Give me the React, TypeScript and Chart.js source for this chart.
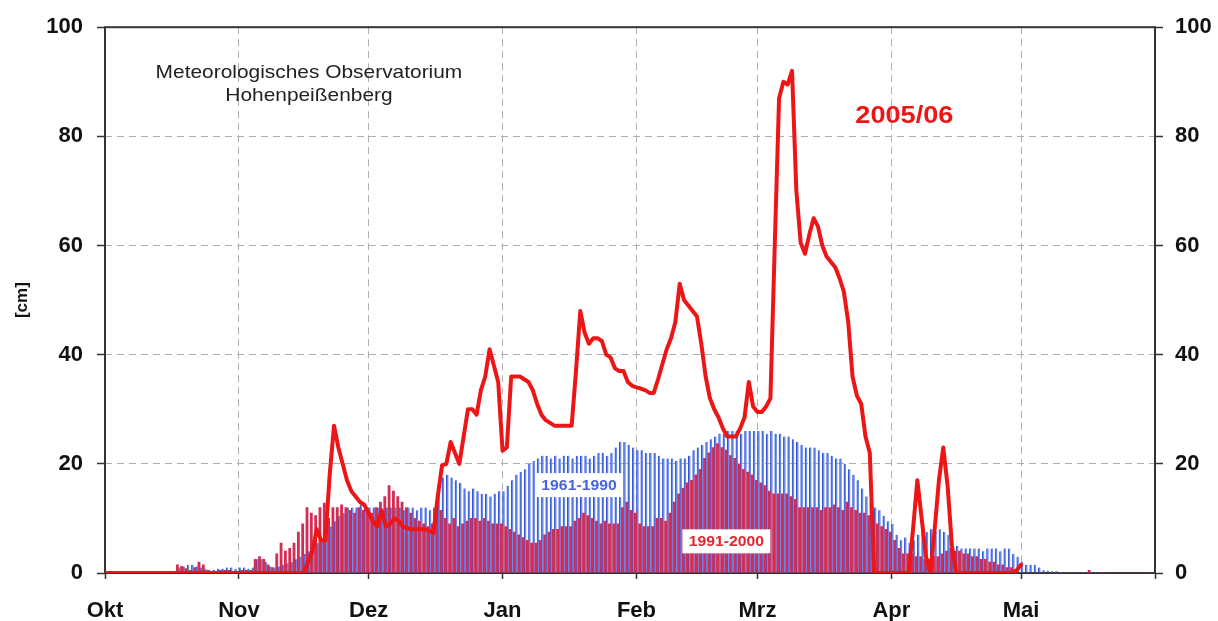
import React, { useEffect, useRef } from "react";
import { Chart, registerables } from "chart.js";

Chart.register(...registerables);

// ---- Axis definitions ----
const MONTH_STARTS = [0, 31, 61, 92, 123, 151, 182, 212, 243];
const MONTH_LABELS = ["Okt", "Nov", "Dez", "Jan", "Feb", "Mrz", "Apr", "Mai", ""];
const Y_MIN = 0;
const Y_MAX = 100;
const Y_STEP = 20;
const Y_TITLE = "[cm]";

// ---- Mean 1961-1990 (daily, cm) ----
const blueOkt = [0,0,0,0,0,0,0,0,0,0,0,0,0,0,0,0,0, 1,1.2,1.5,1.5,1.2,1,0.8, 0.5,0.6,0.8,0.8,1,1,0.8];
const blueNov = [1,1,0.8,1, 2.5,2.5,2,1.2,1, 1.2,1.5,1.8,2,2.5,3,3.5,4, 5,5.5,6,7,8.5,9.5,10.5,11, 12,12,12,12.5,12.5];
const blueDez = [12,12,12,11.5,12,12,12,12,11.5,12,12,11.5,12,12,11.5,12, 16,17.5,18,17.5,17,16.5, 15.5,15,15.5,15,14.5,14.5,14,14.5,15];
const blueJan = [15, 16,17,18,18.5,19,20,20.5, 21,21.5,21.5,21,21.5,21,21.5,21.5,21,21.5,21.5,21.5,21,21.5,22,22,21.5,22, 23,24,24,23.5, 23];
const blueFeb = [22.5,22.5,22,22,22, 21.5,21,21,21,20.5,21,21,21.5, 22.5,23,23.5,24,24.5,25, 25.5,25.5,26,26,26,25.5,26,26,26];
const blueMrz = [26,26,25.5,26, 25.5,25.5,25,25,24.5,24, 23.5,23,23,23,22.5,22,22,21.5, 21,21,20, 19,18,17,15.5,14,13, 12,11.5,10.5,9.5];
const blueApr = [9, 7,6,6.5,5.5,6, 7,7.5,7.5,8,7.5,8,7.5,7, 5,5,4.5,4.5,4.5,4.5,4.5,4,4.5,4.5,4.5,4,4.5,4.5,3.5, 3];
const blueMai = [2,1.5,1.5,1.5,1, 0.5,0.4,0.3,0.3,0.2,0.2,0.2,0.2,0.2,0.2,0.2,0.2,0.2,0.2, 0,0,0,0,0,0,0,0,0,0,0,0];

// ---- Mean 1991-2000 (daily, cm) ----
const redOkt = [0,0,0,0,0,0,0,0,0,0,0,0,0,0,0,0,0, 1.5,1.2,0.8,0.5,1,2,1.5, 0.5,0.3,0.3,0.5,0.5,0.5,0.3];
const redNov = [0.3,0.5,0.5,0.5, 2.5,3,2.5,1.5,1, 3.5,5.5,4,4.5,5.5,7.5,9,12, 11,10.5,12,12.8,10,12,12,12.5, 12,11.5,11,12,11.5];
const redDez = [11.5,11,12, 13,14,16,15,14,13,12, 11,10,9.5,9,8.5,9, 12,11.5,10,9,10,8.5, 9,9.5,10,10,9.5,10,9.5,9,9];
const redJan = [9, 8.5,8,7.5,7,6.5,6,5.5,5.5, 6,7,7.5,8,8,8.5,8.5,8.5, 9.5,10,11,10.5,10,9.5,9,9.5,9, 9,9,12,13,11.5];
const redFeb = [11, 9,8.5,8.5,8.5,10,10,9.5,11, 13,14.5,15.5,16.5,17,18, 19,21,22,23,23.7,23,22.5, 21.5,21,20,19,18.5,18];
const redMrz = [17, 16.5,16,15,14.5,14.5,14.5,14.5,14,13.5, 12,12,12,12,12,11.5,12,12,12.5,12,11.5,13,12,11.5,11,11,10.5, 10,9,8.5,8];
const redApr = [7.5, 6,4.5,3.5,3.5,3.5, 3,3,2.5,2.5,3,3,3.5,4, 4.5,4,4,3.5,3.5,3,3,2.5,2.5, 2,2,1.5,1.5,1,1, 0];
const redMai = [0,0,0,0,0,0,0,0,0,0,0,0,0,0,0,0, 0.5, 0,0,0,0,0,0,0,0,0,0,0,0,0,0];

// ---- Winter 2005/06 (daily, cm) ----
const lineOkt = [0,0,0,0,0,0,0,0,0,0,0,0,0,0,0,0,0,0,0,0,0,0,0,0,0,0,0,0,0,0,0];
const lineNov = [0,0,0,0,0,0,0,0,0,0,0,0,0,0,0,0, 2,4,8,6,6,18,27,23,20,17,15,14,13,12.5];
const lineDez = [11,9.5,8.5,11.5,8.5,9,10,9.5,8.5,8.2,8,8,8,8,7.8,7.3, 14,19.7,20,24,22,20,25,30,30,29,33.5,36,41,38,35];
const lineJan = [22.4,23,36,36,36,35.5,35,33.5,31,29,28,27.5,27,27,27,27,27, 37,48,44,42,43,43,42.5,40,39.5,37.5,37,37,35,34.3];
const lineFeb = [34,33.8,33.5,33,33,35.5,38.3,41,43,46,53,50,49,48,47,42,36,32,30,28.5,26.5,25,25,25,26.5,28.5,35,30.5];
const lineMrz = [29.5,29.5,30.5,32,60,87,90,89.5,92,70,60.5,58.5,62,65,63.5,60,58,57,56,54,51.5,46,36,32.5,31,25,22,0,0,0,0];
const lineApr = [0,0,0,0,0, 8,17,10,3,0, 8,17,23,16,5, 0,0,0,0,0,0,0,0,0,0,0,0,0,0, 0.5];
const lineMai = [1.5];

// ---- Text annotations (anchored in data units: day, cm) ----
const STATION_LINES = ["Meteorologisches Observatorium", "Hohenpeißenberg"];
const STATION_AT = [47.2, 91.6, 87.4];
const SEASON_LABEL = "2005/06";
const SEASON_AT = [185, 83.6];
const BLUE_LABEL = "1961-1990";
const BLUE_AT = [109.7, 16.1];
const RED_LABEL = "1991-2000";
const RED_AT = [143.8, 5.8];

const blueDaily = [...blueOkt, ...blueNov, ...blueDez, ...blueJan, ...blueFeb, ...blueMrz, ...blueApr, ...blueMai];
const redDaily = [...redOkt, ...redNov, ...redDez, ...redJan, ...redFeb, ...redMrz, ...redApr, ...redMai];
const lineDaily = [...lineOkt, ...lineNov, ...lineDez, ...lineJan, ...lineFeb, ...lineMrz, ...lineApr, ...lineMai];

const FONT = "'Liberation Sans', Arial, Helvetica, sans-serif";
const BLUE_FILL = "rgb(105,140,238)";
const BLUE_EDGE = "rgb(48,78,215)";
const RED_BAR = "rgb(212,44,82)";
const RED_LINE = "rgb(236,22,22)";
const GRID = "rgb(175,175,175)";
const AXIS = "#333333";

function drawStretched(ctx: CanvasRenderingContext2D, text: string, x: number, y: number, font: string, color: string, sx: number) {
  ctx.save();
  ctx.font = font;
  ctx.fillStyle = color;
  ctx.textAlign = "center";
  ctx.textBaseline = "middle";
  ctx.translate(x, y);
  ctx.scale(sx, 1);
  ctx.fillText(text, 0, 0);
  ctx.restore();
}

const framePlugin = {
  id: "frame",
  beforeDatasetsDraw(chart: any) {
    const { ctx, chartArea: a } = chart;
    ctx.save();
    ctx.strokeStyle = AXIS;
    ctx.lineWidth = 2;
    ctx.strokeRect(a.left, a.top, a.right - a.left, a.bottom - a.top);
    ctx.restore();
  },
};

const annotationPlugin = {
  id: "annotations",
  afterDatasetsDraw(chart: any) {
    const { ctx } = chart;
    const xs = chart.scales.x;
    const ys = chart.scales.y;
    const px = (d: number) => xs.getPixelForValue(d);
    const py = (v: number) => ys.getPixelForValue(v);

    drawStretched(ctx, STATION_LINES[0], px(STATION_AT[0]), py(STATION_AT[1]), `19px ${FONT}`, "#222", 1.1);
    drawStretched(ctx, STATION_LINES[1], px(STATION_AT[0]), py(STATION_AT[2]), `19px ${FONT}`, "#222", 1.1);
    drawStretched(ctx, SEASON_LABEL, px(SEASON_AT[0]), py(SEASON_AT[1]), `bold 24px ${FONT}`, RED_LINE, 1.13);

    const box = (label: string, at: number[], color: string) => {
      const cx = px(at[0]);
      const cy = py(at[1]);
      ctx.save();
      ctx.fillStyle = "#ffffff";
      ctx.fillRect(cx - 44, cy - 12, 88, 24);
      ctx.restore();
      drawStretched(ctx, label, cx, cy + 1, `bold 15px ${FONT}`, color, 1.05);
    };
    box(BLUE_LABEL, BLUE_AT, "rgb(70,100,220)");
    box(RED_LABEL, RED_AT, "rgb(225,40,50)");
  },
};

export default function App() {
  const canvasRef = useRef<HTMLCanvasElement | null>(null);

  useEffect(() => {
    if (!canvasRef.current) return;
    const toPts = (arr: number[]) => arr.map((v, i) => ({ x: i, y: v }));

    const chart = new Chart(canvasRef.current, {
      type: "bar",
      data: {
        datasets: [
          {
            type: "line",
            label: "2005/06",
            data: toPts(lineDaily),
            borderColor: RED_LINE,
            borderWidth: 4,
            pointRadius: 0,
            tension: 0,
            borderJoinStyle: "round",
            borderCapStyle: "round",
            order: 0,
          } as any,
          {
            type: "bar",
            label: "1961-1990",
            data: toPts(blueDaily),
            backgroundColor: BLUE_FILL,
            borderColor: BLUE_EDGE,
            borderWidth: { left: 1, right: 0, top: 0, bottom: 0 },
            borderSkipped: false,
            categoryPercentage: 1,
            barPercentage: 1,
            order: 2,
          } as any,
          {
            type: "bar",
            label: "1991-2000",
            data: toPts(redDaily),
            backgroundColor: RED_BAR,
            borderWidth: 0,
            categoryPercentage: 1,
            barPercentage: 1,
            order: 1,
          } as any,
        ],
      },
      options: {
        animation: false,
        responsive: true,
        maintainAspectRatio: false,
        layout: { padding: { top: 25, left: 0, right: 0, bottom: 0 } },
        plugins: {
          legend: { display: false },
          tooltip: { enabled: false },
        },
        scales: {
          x: {
            type: "linear",
            min: 0,
            max: 243,
            offset: false,
            afterBuildTicks: (s: any) => {
              s.ticks = MONTH_STARTS.map((v) => ({ value: v }));
            },
            afterFit: (s: any) => {
              s.height = 48;
            },
            ticks: {
              autoSkip: false,
              maxRotation: 0,
              padding: 19,
              color: "#111",
              font: { family: FONT, size: 22, weight: "bold" },
              callback: (v: any) => {
                const i = MONTH_STARTS.indexOf(Number(v));
                return i >= 0 ? MONTH_LABELS[i] : "";
              },
            },
            grid: {
              color: GRID,
              lineWidth: 1,
              tickColor: AXIS,
              tickLength: 6,
              tickWidth: 1.5,
              offset: false,
            },
            border: { display: false, dash: [7, 5] },
          },
          y: {
            type: "linear",
            position: "left",
            min: Y_MIN,
            max: Y_MAX,
            afterFit: (s: any) => {
              s.width = 105;
            },
            ticks: {
              stepSize: Y_STEP,
              padding: 14,
              color: "#111",
              font: { family: FONT, size: 22, weight: "bold" },
            },
            grid: {
              color: GRID,
              lineWidth: 1,
              tickColor: AXIS,
              tickLength: 8,
              tickWidth: 1.5,
            },
            border: { display: false, dash: [7, 5] },
            title: {
              display: true,
              text: Y_TITLE,
              color: "#111",
              font: { family: FONT, size: 17, weight: "bold" },
              padding: { top: 12, bottom: 0 },
            },
          },
          y2: {
            type: "linear",
            position: "right",
            display: true,
            min: Y_MIN,
            max: Y_MAX,
            afterFit: (s: any) => {
              s.width = 63;
            },
            ticks: {
              stepSize: Y_STEP,
              padding: 12,
              color: "#111",
              font: { family: FONT, size: 22, weight: "bold" },
            },
            grid: {
              drawOnChartArea: false,
              tickColor: AXIS,
              tickLength: 8,
              tickWidth: 1.5,
            },
            border: { display: false },
          },
        },
      } as any,
      plugins: [framePlugin, annotationPlugin],
    });

    return () => chart.destroy();
  }, []);

  return (
    <div style={{ position: "fixed", left: 0, top: 0, width: 1218, height: 621, background: "#ffffff" }}>
      <canvas ref={canvasRef} />
    </div>
  );
}
